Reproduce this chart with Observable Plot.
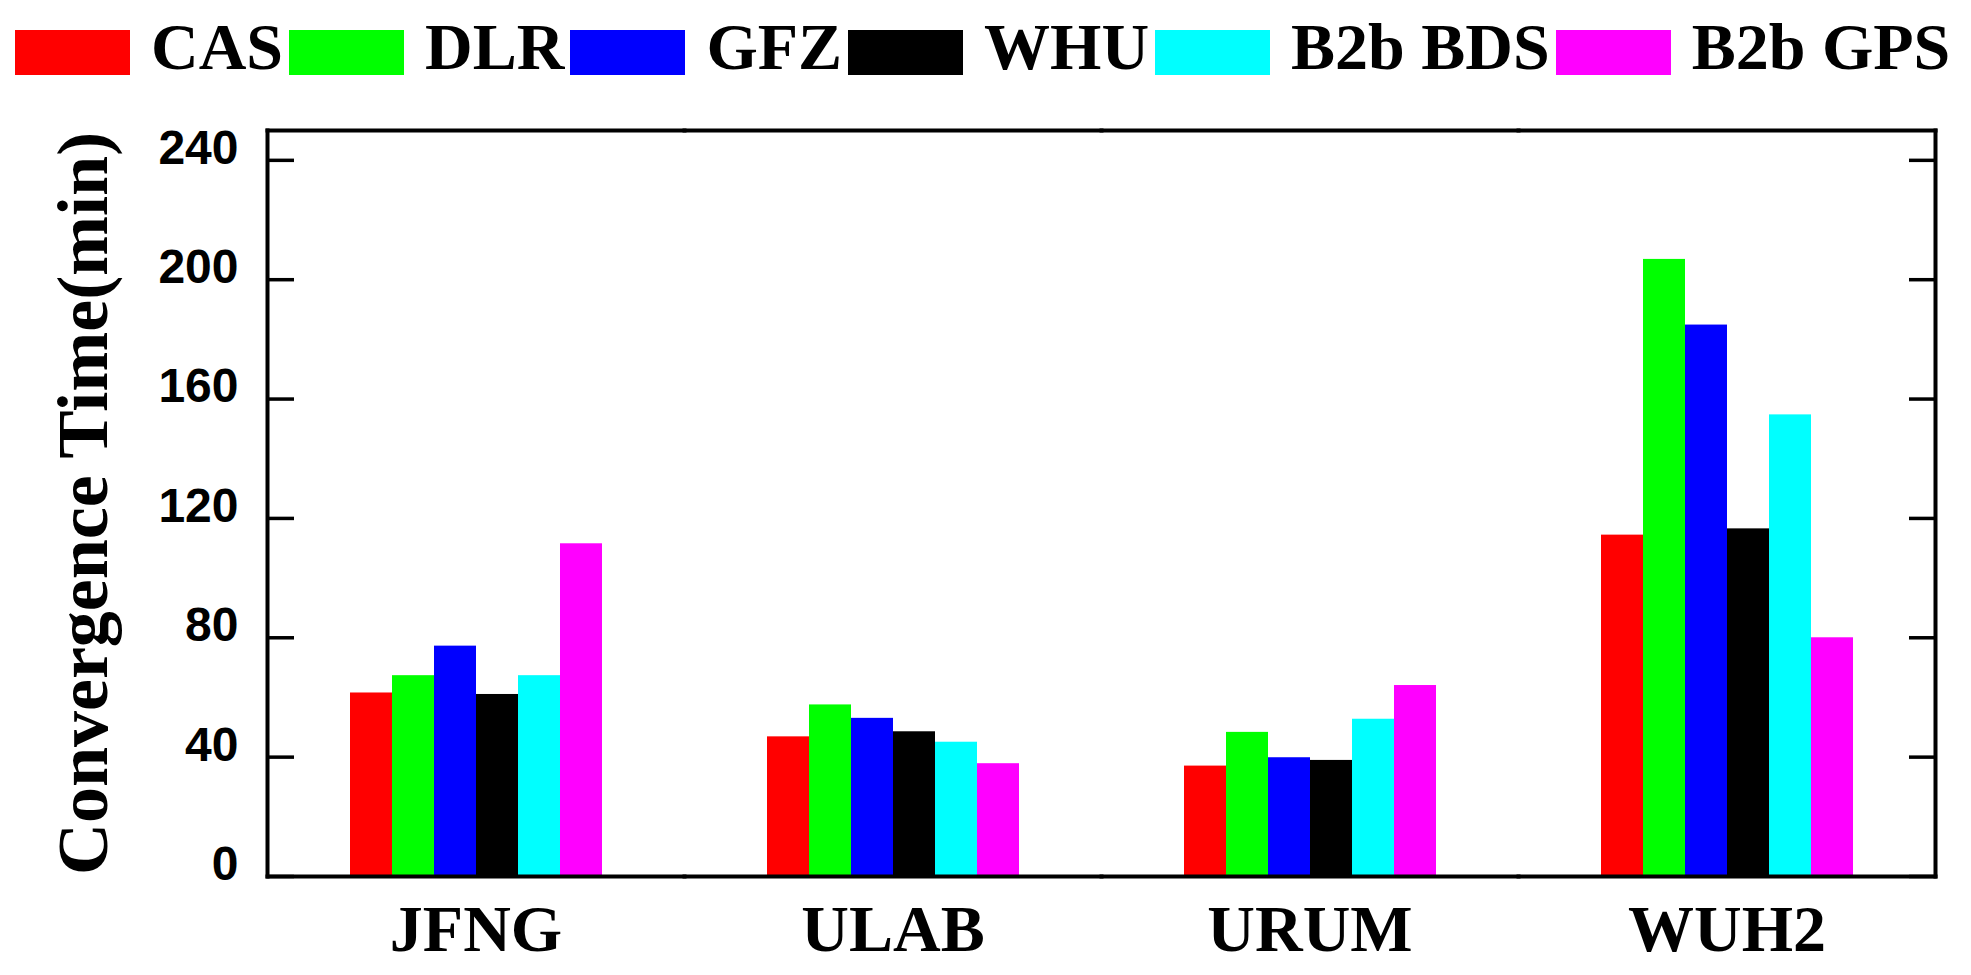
<!DOCTYPE html>
<html><head><meta charset="utf-8">
<script src="https://cdn.jsdelivr.net/npm/d3@7"></script>
<script src="https://cdn.jsdelivr.net/npm/@observablehq/plot@0.6"></script>
<style>
body{margin:0;background:#fff;width:1971px;height:975px;overflow:hidden}
#legend{height:110px;display:flex;align-items:flex-start;padding-left:15px;box-sizing:border-box;font-family:"Liberation Serif","Times New Roman",serif;font-weight:bold;font-size:66px;color:#000}
.item{display:flex;align-items:center;margin-top:30px;height:45px}
.sw{width:115px;height:45px;margin-right:21px}
.lab{line-height:1;position:relative;top:-6px;margin-right:6px;white-space:nowrap}
#chart svg [aria-label="y-axis label"] text,#chart svg [aria-label="y-axis label"]{font-family:"Liberation Serif",serif;font-size:72px;font-weight:bold;stroke:none}
</style></head><body>
<div id="legend"></div><div id="chart"></div>
<script>
const stations = ["JFNG", "ULAB", "URUM", "WUH2"];
const series = ["CAS", "DLR", "GFZ", "WHU", "B2b BDS", "B2b GPS"];
const colors = ["#ff0000", "#00ff00", "#0000ff", "#000000", "#00ffff", "#ff00ff"];
const casValues = [61.5, 46.8, 37.0, 114.4];
const dlrValues = [67.3, 57.5, 48.3, 206.8];
const gfzValues = [77.2, 53.0, 39.8, 184.8];
const whuValues = [61.0, 48.5, 38.9, 116.5];
const bdsValues = [67.3, 45.0, 52.7, 154.7];
const gpsValues = [111.5, 37.8, 64.0, 80.0];
const yTicks = [0, 40, 80, 120, 160, 200, 240];
const yLabel = "Convergence Time(min)";

const seriesValues = [casValues, dlrValues, gfzValues, whuValues, bdsValues, gpsValues];
const data = series.flatMap((s, i) => stations.map((st, j) => ({station: st, series: s, value: seriesValues[i][j]})));

// legend
const legend = document.getElementById("legend");
series.forEach((s, i) => {
  const it = document.createElement("div"); it.className = "item";
  const sw = document.createElement("div"); sw.className = "sw"; sw.style.background = colors[i];
  const lb = document.createElement("span"); lb.className = "lab"; lb.textContent = s;
  it.append(sw, lb); legend.append(it);
});

const lineW = 4;
const chart = Plot.plot({
  width: 1971, height: 865,
  marginTop: 20, marginBottom: 99, marginLeft: 267, marginRight: 36,
  fx: {domain: stations, padding: 0, label: null},
  x: {domain: series, padding: 0, insetLeft: 82, insetRight: 82, axis: null},
  y: {domain: [0, 250]},
  color: {domain: series, range: colors},
  marks: [
    Plot.barY(data, {fx: "station", x: "series", y: "value", fill: "series"}),
    Plot.frame({anchor: "top", stroke: "#000", strokeWidth: lineW}),
    Plot.frame({anchor: "bottom", stroke: "#000", strokeWidth: lineW}),
    Plot.frame({anchor: "left", facetAnchor: "left", stroke: "#000", strokeWidth: lineW}),
    Plot.frame({anchor: "right", facetAnchor: "right", stroke: "#000", strokeWidth: lineW}),
    Plot.axisY({anchor: "left", ticks: yTicks, tickSize: 0, tickPadding: 29, dy: -12,
      fontSize: 48, fontWeight: "bold", fontFamily: "Liberation Sans, Arial, sans-serif", fill: "#000",
      stroke: "#000", strokeWidth: 1.3,
      label: yLabel, labelAnchor: "center", labelOffset: 212, labelArrow: "none"}),
    Plot.axisY({anchor: "left", ticks: yTicks, tickSize: -27, strokeWidth: 3.5, stroke: "#000", fill: "none", label: null}),
    Plot.axisY({anchor: "right", ticks: yTicks, tickSize: -27, strokeWidth: 3.5, stroke: "#000", fill: "none", label: null}),
    Plot.axisFx({anchor: "bottom", tickSize: 0, tickPadding: 28, label: null,
      fontSize: 66, fontWeight: "bold", fontFamily: "Liberation Serif, Times New Roman, serif", fill: "#000"})
  ]
});
document.getElementById("chart").append(chart);
</script>
</body></html>
